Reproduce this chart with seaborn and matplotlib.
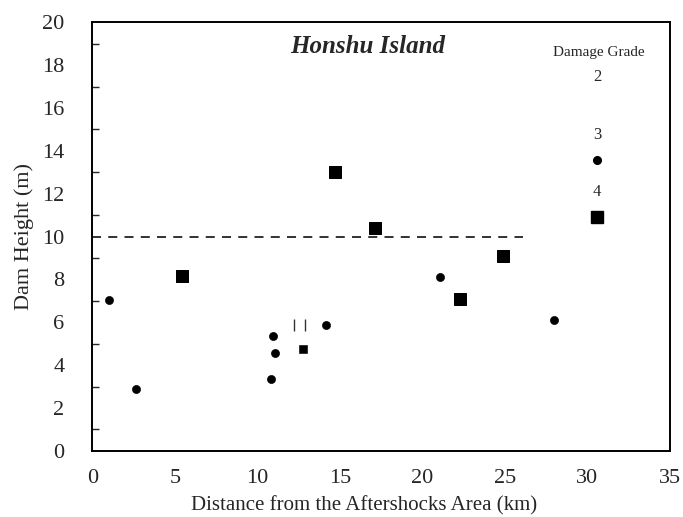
import pandas as pd
import matplotlib.pyplot as plt
import seaborn as sns

# Dam height vs distance from aftershock area, by damage grade (Honshu)
grade3_x = [1.0, 2.65, 10.95, 11.05, 10.8, 14.15, 21.05, 27.95]
grade3_y = [7.05, 2.9, 5.35, 4.55, 3.35, 5.85, 8.1, 6.1]

grade4_x = [5.45, 14.7, 17.1, 22.3, 24.9]
grade4_y = [8.15, 13.0, 10.4, 7.1, 9.1]

grade4_small_x = [12.75]
grade4_small_y = [4.75]

grade2_x = [12.2, 12.9]
grade2_y = [5.85, 5.85]

threshold = 10
threshold_end = 26.1

sns.set_style("white")
plt.rcParams['font.family'] = ['Liberation Serif', 'DejaVu Serif']

fig = plt.figure(figsize=(6.83, 5.17), dpi=100)
ax = fig.add_axes([0.135, 0.128, 0.846, 0.829])

df3 = pd.DataFrame({"dist": grade3_x, "height": grade3_y})
df4 = pd.DataFrame({"dist": grade4_x, "height": grade4_y})
df4s = pd.DataFrame({"dist": grade4_small_x, "height": grade4_small_y})

sns.scatterplot(data=df3, x="dist", y="height", marker="o", s=34,
                color="black", edgecolor="black", ax=ax)
sns.scatterplot(data=df4, x="dist", y="height", marker="s", s=80,
                color="black", edgecolor="black", ax=ax)
sns.scatterplot(data=df4s, x="dist", y="height", marker="s", s=28,
                color="black", edgecolor="black", ax=ax)
ax.plot(grade2_x, grade2_y, linestyle="none", marker="|", markersize=9,
        markeredgewidth=1.0, color="#333333")

ax.plot([0, threshold_end], [threshold, threshold], linestyle=(0, (5, 4)),
        color="#222222", linewidth=1.3)

ax.set_xlim(0, 35)
ax.set_ylim(0, 20)
ax.set_xticks(range(0, 36, 5))
ax.set_yticks(range(0, 21, 2))
ax.set_yticks(range(1, 20, 2), minor=True)
ax.tick_params(axis="both", which="major", direction="in", length=7,
               width=1, labelsize=16, color="black")
ax.tick_params(axis="x", which="major", pad=13)
ax.tick_params(axis="y", which="major", pad=20)
ax.tick_params(axis="y", which="minor", direction="in", length=5,
               width=1, left=True)
for sp in ax.spines.values():
    sp.set_color("black")
    sp.set_linewidth(1.4)

ax.set_xlabel("Distance from the Aftershocks Area (km)", fontsize=15,
              labelpad=2)
ax.xaxis.set_label_coords(0.47, -0.105)
ax.set_ylabel("Dam Height (m)", fontsize=16, labelpad=6)

ax.text(0.477, 0.944, "Honshu Island", transform=ax.transAxes,
        fontsize=18, fontweight="bold", fontstyle="italic",
        ha="center", va="center")

# hand-built legend on the right
ax.text(0.877, 0.93, "Damage Grade", transform=ax.transAxes,
        fontsize=11, ha="center", va="center")
ax.text(0.874, 0.872, "2", transform=ax.transAxes, fontsize=12,
        ha="center", va="center")
ax.text(0.874, 0.737, "3", transform=ax.transAxes, fontsize=12,
        ha="center", va="center")
ax.plot([0.874], [0.678], transform=ax.transAxes, marker="o",
        markersize=5.5, color="black", linestyle="none")
ax.text(0.874, 0.604, "4", transform=ax.transAxes, fontsize=12,
        ha="center", va="center")
ax.plot([0.874], [0.545], transform=ax.transAxes, marker="s",
        markersize=8.5, color="black", linestyle="none")

fig.savefig("out.png", dpi=100)
